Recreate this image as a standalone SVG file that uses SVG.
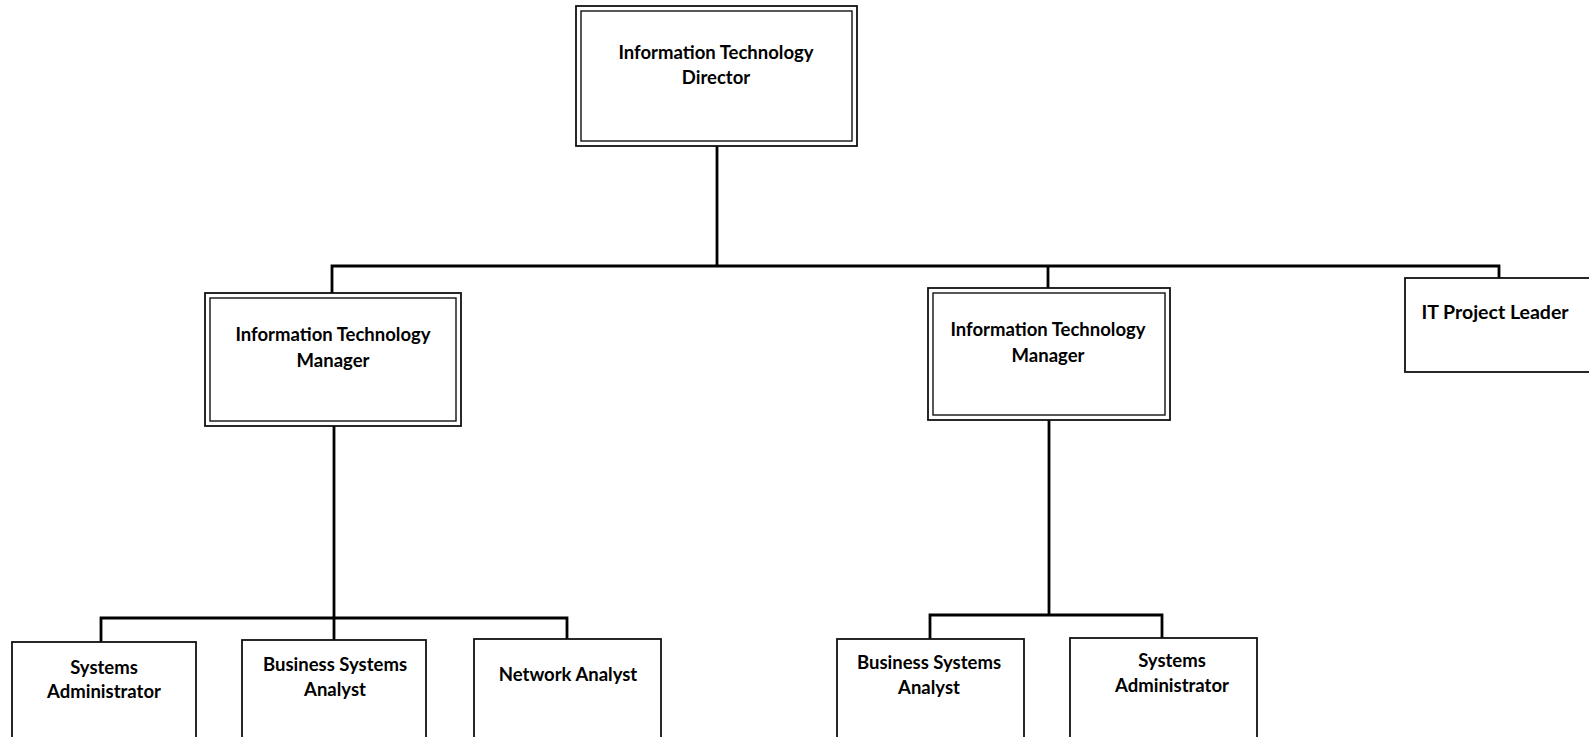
<svg xmlns="http://www.w3.org/2000/svg" width="1589" height="737" viewBox="0 0 1589 737">
<style>
.bg{fill:#ffffff}
.box{fill:#ffffff;stroke:#111;stroke-width:1.8}
.inner{fill:none;stroke:#111;stroke-width:1.4}
.conn{fill:none;stroke:#000;stroke-width:2.8;stroke-linejoin:miter}
text{font-family:Lato,"Open Sans","Liberation Sans",sans-serif;font-weight:700;font-size:18.5px;fill:#000;text-anchor:middle}
</style>
<rect class="bg" x="0" y="0" width="1589" height="737"/>
<g id="connectors">
<path class="conn" d="M717,146 V266 M332,293 V266 H1499 V278 M1048,266 V288"/>
<path class="conn" d="M334,426 V618 M101,642 V618 H567 V640 M334,618 V641"/>
<path class="conn" d="M1049,420 V615 M930,640 V615 H1162 V639"/>
</g>
<g id="director">
<rect class="box" x="576" y="6" width="281" height="140"/>
<rect class="inner" x="581" y="11" width="271" height="130"/>
<text x="716" y="59">Information Technology</text>
<text x="716" y="84">Director</text>
</g>
<g id="itm1">
<rect class="box" x="205" y="293" width="256" height="133"/>
<rect class="inner" x="210" y="298" width="246" height="123"/>
<text x="333" y="341">Information Technology</text>
<text x="333" y="367">Manager</text>
</g>
<g id="itm2">
<rect class="box" x="928" y="288" width="242" height="132"/>
<rect class="inner" x="933" y="293" width="232" height="122"/>
<text x="1048" y="336">Information Technology</text>
<text x="1048" y="362">Manager</text>
</g>
<g id="itpl">
<rect class="box" x="1405" y="278" width="190" height="94"/>
<text x="1495" y="319" style="font-size:19.5px">IT Project Leader</text>
</g>
<g id="sa1">
<rect class="box" x="12" y="642" width="184" height="100"/>
<text x="104" y="674">Systems</text>
<text x="104" y="698">Administrator</text>
</g>
<g id="bsa1">
<rect class="box" x="242" y="640" width="184" height="102"/>
<text x="335" y="671">Business Systems</text>
<text x="335" y="696">Analyst</text>
</g>
<g id="na">
<rect class="box" x="474" y="639" width="187" height="103"/>
<text x="568" y="681">Network Analyst</text>
</g>
<g id="bsa2">
<rect class="box" x="837" y="639" width="187" height="103"/>
<text x="929" y="669">Business Systems</text>
<text x="929" y="694">Analyst</text>
</g>
<g id="sa2">
<rect class="box" x="1070" y="638" width="187" height="104"/>
<text x="1172" y="667">Systems</text>
<text x="1172" y="692">Administrator</text>
</g>
</svg>
